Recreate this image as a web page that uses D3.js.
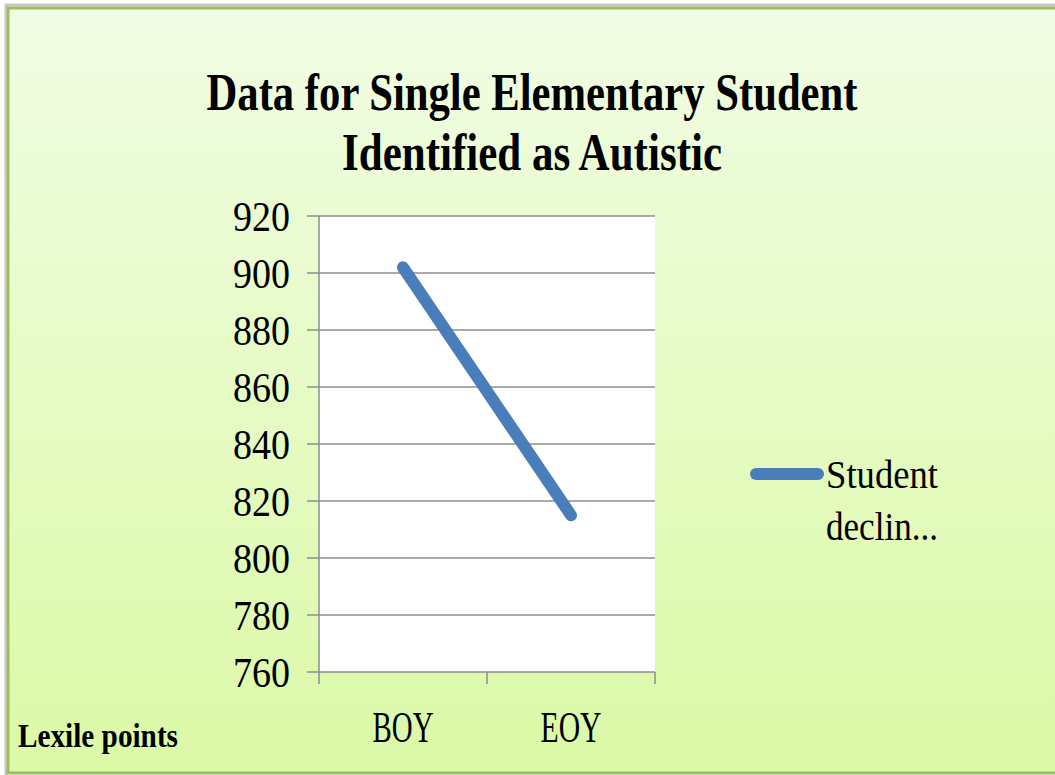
<!DOCTYPE html>
<html lang="en">
<head>
<meta charset="utf-8">
<title>Data for Single Elementary Student</title>
<script src="https://cdn.jsdelivr.net/npm/d3@7"></script>
<style>
  body { margin: 0; background: #fff; }
  svg text { font-family: "Liberation Serif", "DejaVu Serif", serif; fill: #000; }
</style>
</head>
<body>
<div id="chart"></div>
<script>
// chart data
var categories = ["BOY", "EOY"];
var values = [902, 815];
var yTicks = [760, 780, 800, 820, 840, 860, 880, 900, 920];
var seriesName = ["Student", "declin..."];
var titleLines = ["Data for Single Elementary Student", "Identified as Autistic"];
var axisTitle = "Lexile points";

var width = 1055, height = 775;

var svg = d3.select("#chart").append("svg")
    .attr("width", width)
    .attr("height", height);

var defs = svg.append("defs");
var grad = defs.append("linearGradient")
    .attr("id", "bg")
    .attr("x1", 0).attr("y1", 0).attr("x2", 0).attr("y2", 1);
grad.append("stop").attr("offset", "0%").attr("stop-color", "#f1fde4");
grad.append("stop").attr("offset", "100%").attr("stop-color", "#dbf9a6");

// shadow + frame
svg.append("rect")
    .attr("x", 6).attr("y", 5).attr("width", 1070).attr("height", 775)
    .attr("fill", "none").attr("stroke", "#c8c8c8").attr("stroke-width", 3);
svg.append("rect")
    .attr("x", 8).attr("y", 8).attr("width", 1070).attr("height", 765)
    .attr("fill", "url(#bg)").attr("stroke", "#9dbd5c").attr("stroke-width", 3);

var plot = {left: 319, right: 655, top: 216, bottom: 672};

var x = d3.scaleBand().domain(categories).range([plot.left, plot.right]).paddingInner(0).paddingOuter(0);
var y = d3.scaleLinear().domain([760, 920]).range([plot.bottom, plot.top]);

svg.append("rect")
    .attr("x", plot.left).attr("y", plot.top)
    .attr("width", plot.right - plot.left).attr("height", plot.bottom - plot.top)
    .attr("fill", "#fff");

// gridlines
svg.append("g").selectAll("line")
    .data(yTicks)
    .enter().append("line")
    .attr("x1", plot.left - 12).attr("x2", plot.right)
    .attr("y1", function (d) { return y(d); })
    .attr("y2", function (d) { return y(d); })
    .attr("stroke", "#8e8e8e").attr("stroke-width", 1.5);

// y axis line
svg.append("line")
    .attr("x1", plot.left).attr("x2", plot.left)
    .attr("y1", plot.top).attr("y2", plot.bottom)
    .attr("stroke", "#8e8e8e").attr("stroke-width", 1.5);

// x tick marks at band edges
var edges = categories.map(function (c) { return x(c); }).concat([plot.right]);
svg.append("g").selectAll("line")
    .data(edges)
    .enter().append("line")
    .attr("x1", function (d) { return d; }).attr("x2", function (d) { return d; })
    .attr("y1", plot.bottom).attr("y2", plot.bottom + 12)
    .attr("stroke", "#8e8e8e").attr("stroke-width", 1.5);

// y tick labels
svg.append("g").selectAll("text")
    .data(yTicks)
    .enter().append("text")
    .attr("x", 290)
    .attr("y", function (d) { return y(d) + 15; })
    .attr("text-anchor", "end")
    .attr("font-size", 42)
    .attr("textLength", 57)
    .attr("lengthAdjust", "spacingAndGlyphs")
    .text(function (d) { return d; });

// category labels
svg.append("g").selectAll("text")
    .data(categories)
    .enter().append("text")
    .attr("x", function (d) { return x(d) + x.bandwidth() / 2; })
    .attr("y", 742)
    .attr("text-anchor", "middle")
    .attr("font-size", 45)
    .attr("textLength", 61)
    .attr("lengthAdjust", "spacingAndGlyphs")
    .text(function (d) { return d; });

// data line
var line = d3.line()
    .x(function (d, i) { return x(categories[i]) + x.bandwidth() / 2; })
    .y(function (d) { return y(d); });

svg.append("path")
    .datum(values)
    .attr("d", line)
    .attr("fill", "none")
    .attr("stroke", "#4a7ebb")
    .attr("stroke-width", 12)
    .attr("stroke-linecap", "round");

// title
var titleBase = [110, 170], titleLen = [651, 380];
svg.append("g").selectAll("text")
    .data(titleLines)
    .enter().append("text")
    .attr("x", 532)
    .attr("y", function (d, i) { return titleBase[i]; })
    .attr("text-anchor", "middle")
    .attr("font-size", 52)
    .attr("font-weight", "bold")
    .attr("textLength", function (d, i) { return titleLen[i]; })
    .attr("lengthAdjust", "spacingAndGlyphs")
    .text(function (d) { return d; });

// legend
svg.append("line")
    .attr("x1", 756).attr("x2", 818)
    .attr("y1", 474).attr("y2", 474)
    .attr("stroke", "#4a7ebb").attr("stroke-width", 12)
    .attr("stroke-linecap", "round");

svg.append("g").selectAll("text")
    .data(seriesName)
    .enter().append("text")
    .attr("x", 826)
    .attr("y", function (d, i) { return 488 + i * 52; })
    .attr("font-size", 39)
    .attr("textLength", 112)
    .attr("lengthAdjust", "spacingAndGlyphs")
    .text(function (d) { return d; });

// axis title
svg.append("text")
    .attr("x", 18).attr("y", 747)
    .attr("font-size", 33)
    .attr("font-weight", "bold")
    .attr("textLength", 160)
    .attr("lengthAdjust", "spacingAndGlyphs")
    .text(axisTitle);
</script>
</body>
</html>
